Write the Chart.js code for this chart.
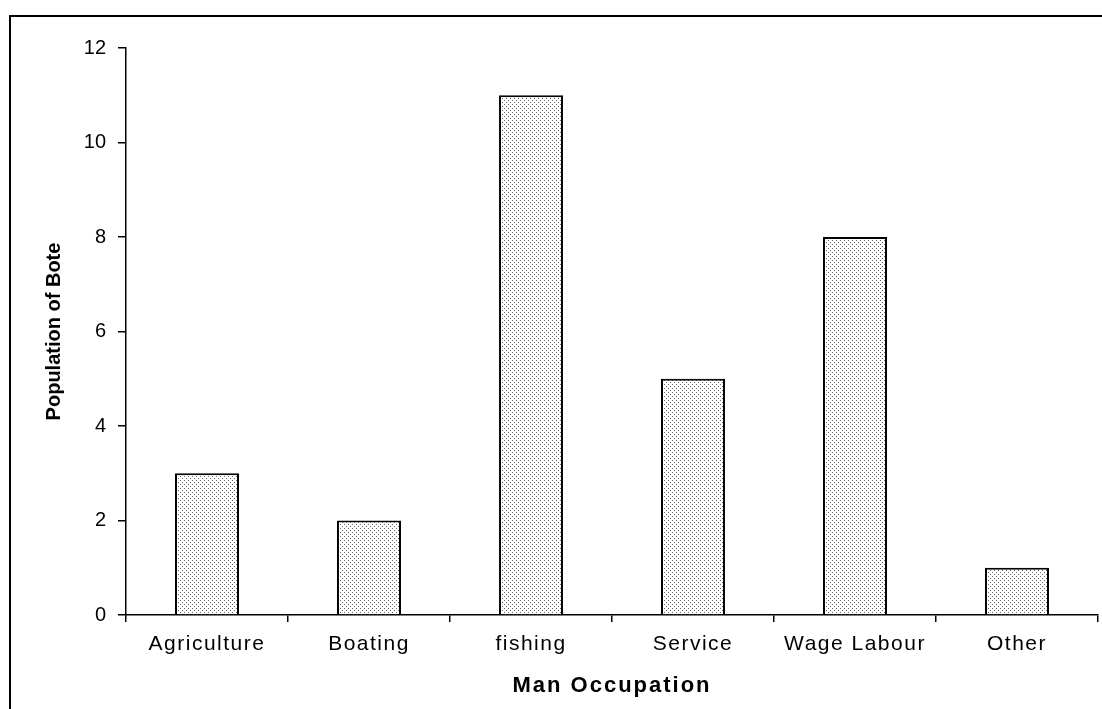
<!DOCTYPE html>
<html>
<head>
<meta charset="utf-8">
<script src="https://cdn.jsdelivr.net/npm/chart.js@4"></script>
<style>
  body { margin: 0; background: #fff; }
  canvas { display: block; }
</style>
</head>
<body>
<canvas id="chart" width="1102" height="709"></canvas>
<script>
// data
const occupations = ['Agriculture', 'Boating', 'fishing', 'Service', 'Wage Labour', 'Other'];
const population = [3, 2, 11, 5, 8, 1];
const yTicks = [0, 2, 4, 6, 8, 10, 12];

// dotted fill like the original bars
function dotPattern() {
  const c = document.createElement('canvas');
  c.width = 4; c.height = 4;
  const g = c.getContext('2d');
  g.fillStyle = '#fff';
  g.fillRect(0, 0, 4, 4);
  g.fillStyle = '#666';
  g.fillRect(0, 0, 1, 1);
  g.fillRect(2, 2, 1, 1);
  return g.createPattern(c, 'repeat');
}

function spaced(chart, fn, sp) {
  return function (a) {
    chart.ctx.letterSpacing = sp;
    fn(a);
    chart.ctx.letterSpacing = '0px';
  };
}

// frame around the plot (only top and left edges show in the picture)
const frame = {
  id: 'frame',
  beforeDraw(chart) {
    const ctx = chart.ctx;
    ctx.save();
    ctx.fillStyle = '#fff';
    ctx.fillRect(0, 0, chart.width, chart.height);
    ctx.strokeStyle = '#000';
    ctx.lineWidth = 2;
    ctx.beginPath();
    ctx.moveTo(10, chart.height);
    ctx.lineTo(10, 16);
    ctx.lineTo(chart.width, 16);
    ctx.stroke();
    ctx.restore();
  },
  afterLayout(chart) {
    // horizontal text in the source is a bit wider, so space it out a little
    const s = chart.scales.x;
    if (!s._spaced) {
      s.drawLabels = spaced(chart, s.drawLabels.bind(s), '1.5px');
      s.drawTitle = spaced(chart, s.drawTitle.bind(s), '2px');
      s._spaced = true;
    }
  }
};

const ctx = document.getElementById('chart');
new Chart(ctx, {
  type: 'bar',
  data: {
    labels: occupations,
    datasets: [{
      data: population,
      backgroundColor: dotPattern(),
      borderColor: '#000',
      borderWidth: 2,
      categoryPercentage: 1,
      barPercentage: 0.395
    }]
  },
  options: {
    responsive: false,
    animation: false,
    layout: { padding: { left: 0, right: 4, top: 48, bottom: 0 } },
    plugins: { legend: { display: false }, tooltip: { enabled: false } },
    scales: {
      x: {
        afterFit(scale) { scale.height = 94; },
        grid: { drawOnChartArea: false, color: '#000', lineWidth: 1.5, tickLength: 7 },
        border: { color: '#000', width: 1.5 },
        ticks: { color: '#000', padding: 10, font: { family: 'Liberation Sans, Arial', size: 21 } },
        title: {
          display: true,
          text: 'Man Occupation',
          color: '#000',
          padding: { top: 0, bottom: 10 },
          font: { family: 'Liberation Sans, Arial', size: 22, weight: 'bold' }
        }
      },
      y: {
        min: 0,
        max: 12,
        afterFit(scale) { scale.width = 126; },
        afterBuildTicks(scale) { scale.ticks = yTicks.map(v => ({ value: v })); },
        grid: { drawOnChartArea: false, color: '#000', lineWidth: 1.5, tickLength: 8 },
        border: { color: '#000', width: 1.5 },
        ticks: { color: '#000', padding: 12, font: { family: 'Liberation Sans, Arial', size: 20 } },
        title: {
          display: true,
          text: 'Population of Bote',
          color: '#000',
          padding: { top: 42, bottom: 0 },
          font: { family: 'Liberation Sans, Arial', size: 20, weight: 'bold' }
        }
      }
    }
  },
  plugins: [frame]
});
</script>
</body>
</html>
